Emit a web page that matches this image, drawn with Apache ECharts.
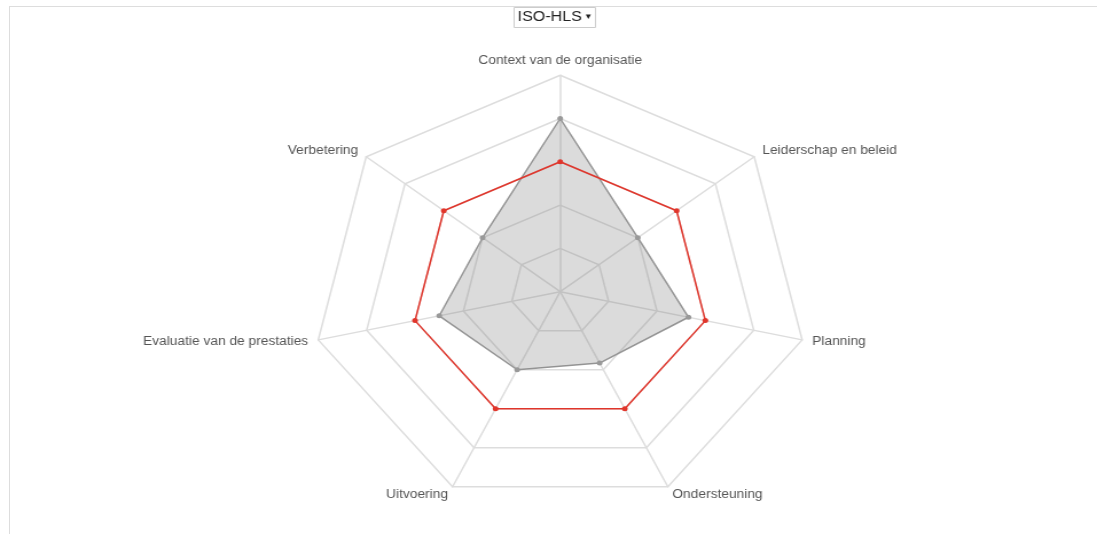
<!DOCTYPE html>
<html>
<head>
<meta charset="utf-8">
<script src="https://cdn.jsdelivr.net/npm/echarts@6/dist/echarts.min.js"></script>
<style>
  html, body { margin: 0; padding: 0; background: #fff; overflow: hidden; }
  #frame { position: absolute; left: 9px; top: 6px; width: 1100px; height: 540px;
           border-top: 1px solid #ddd; border-left: 1px solid #ddd; }
  /* the reference is a horizontally stretched screenshot */
  #container { position: absolute; left: 0; top: 0; width: 957px; height: 534px;
               transform: scaleX(1.1463); transform-origin: 0 0; }
</style>
</head>
<body>
<div id="frame"></div>
<div id="container"></div>
<script>
// indicators in ECharts order (top, then counter-clockwise)
var categories = ['Context van de organisatie', 'Verbetering', 'Evaluatie van de prestaties',
                  'Uitvoering', 'Ondersteuning', 'Planning', 'Leiderschap en beleid'];
var scoreValues = [4, 2, 2.5, 2, 1.83, 2.65, 2];
var targetValues = [3, 3, 3, 3, 3, 3, 3];
var maxValue = 5;

var indicators = [];
for (var i = 0; i < categories.length; i++) {
    indicators.push({ name: categories[i], max: maxValue, min: 0 });
}

var chart = echarts.init(document.getElementById('container'));
option = {
    animation: false,
    title: {
        text: 'ISO-HLS {arrow|\u25BE}',
        left: 481,
        textAlign: 'center',
        top: 7,
        padding: [3, 3, 4, 3],
        borderWidth: 1,
        borderColor: '#ccc',
        textStyle: {
            fontSize: 14, fontWeight: 'normal', color: '#222', fontFamily: 'Liberation Sans',
            rich: { arrow: { fontSize: 9, color: '#222' } }
        }
    },
    radar: {
        center: [488.7, 291.7],
        radius: 216.5,
        splitNumber: 5,
        nameGap: 9,
        indicator: indicators,
        axisName: { color: '#555', fontSize: 12, fontFamily: 'Liberation Sans' },
        splitLine: { lineStyle: { color: '#ddd', width: 1.5 } },
        axisLine: { lineStyle: { color: '#ddd', width: 1.5 } },
        splitArea: { show: false }
    },
    series: [
        {
            type: 'radar',
            symbol: 'circle',
            symbolSize: 5,
            data: [
                {
                    value: scoreValues,
                    name: 'Score',
                    itemStyle: { color: '#999' },
                    lineStyle: { color: '#999', width: 1.5 },
                    areaStyle: { color: 'rgba(120,120,120,0.38)' }
                },
                {
                    value: targetValues,
                    name: 'Doel',
                    itemStyle: { color: '#e0352b' },
                    lineStyle: { color: '#e0352b', width: 1.5 }
                }
            ]
        }
    ]
};
chart.setOption(option);
</script>
</body>
</html>
